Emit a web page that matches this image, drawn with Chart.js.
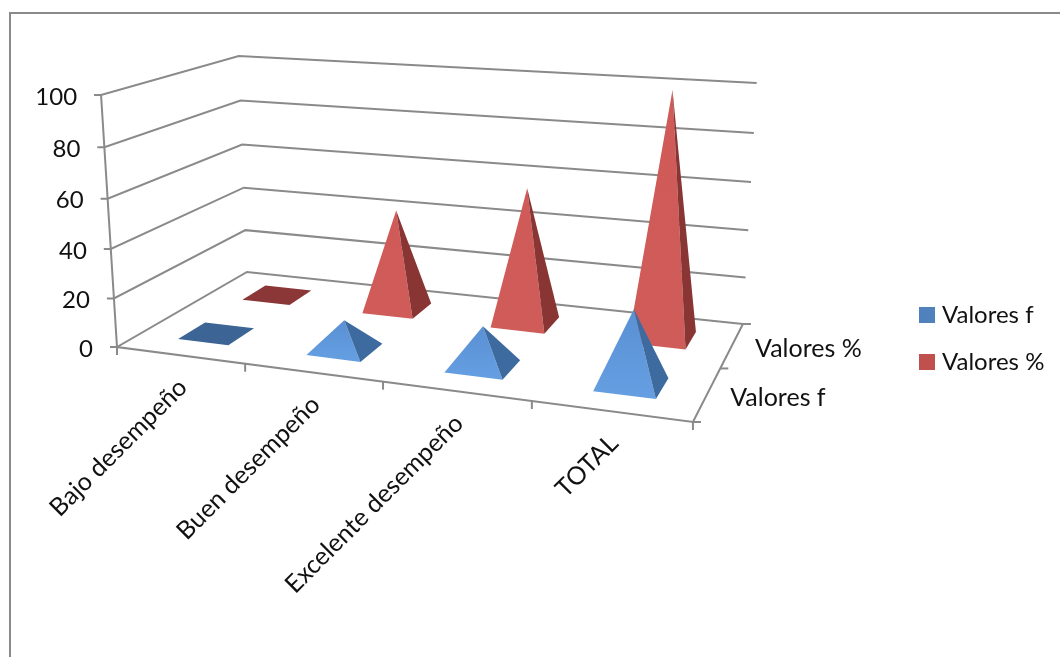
<!DOCTYPE html>
<html>
<head>
<meta charset="utf-8">
<style>
  html, body { margin: 0; padding: 0; background: #fff; overflow: hidden; }
  canvas { display: block; }
</style>
<script src="https://cdn.jsdelivr.net/npm/chart.js@4/dist/chart.umd.min.js"></script>
</head>
<body>
<canvas id="chart-pyramid" width="1060" height="657"></canvas>
<script>
const categories = ['Bajo desempeño', 'Buen desempeño', 'Excelente desempeño', 'TOTAL'];
const seriesNames = ['Valores f', 'Valores %'];
const valoresF = [0, 12, 16, 29];
const valoresPct = [0, 43, 57, 100];
const valueTicks = [0, 20, 40, 60, 80, 100];

const GRID = '#8a8a8a';
const FONT = '25px Lato';
const NUM_FONT = '24px Lato';
const TEXT = '#111';

// colours of the pyramid faces, per series
const faces = [
  { legend: '#4f81bd', top: '#5a90d4', bottom: '#659fe2', side: '#3e6b9f', flat: '#3c6595' },
  { legend: '#c0504d', top: '#cf5a58', bottom: '#d05c59', side: '#883534', flat: '#8c3737' }
];

// camera of the 3d box: u along categories, v into depth, z up (all 0..1)
const CAM = {
  a: 477.9, b: 173.3, c: 117, d: 15.3, e: -27.3, f: 347,
  g: -0.1415, h: 0.1755, k: -0.046, p: -20.6, q: -256.4, r: 3.4
};

function project(u, v, z) {
  const w = 1 + CAM.g * u + CAM.h * v + CAM.k * z;
  return {
    x: (CAM.a * u + CAM.b * v + CAM.c + z * CAM.p) / w,
    y: (CAM.d * u + CAM.e * v + CAM.f + z * (CAM.q + CAM.r * u)) / w
  };
}

function polyline(ctx, pts) {
  ctx.beginPath();
  pts.forEach((p, i) => (i ? ctx.lineTo(p.x, p.y) : ctx.moveTo(p.x, p.y)));
}

function fillFace(ctx, pts, color) {
  polyline(ctx, pts);
  ctx.closePath();
  ctx.fillStyle = color;
  ctx.fill();
}

function drawBox(chart) {
  const ctx = chart.ctx;
  const yScale = chart.scales.y;
  ctx.strokeStyle = GRID;
  ctx.lineWidth = 2;

  // outer frame of the chart object
  polyline(ctx, [{ x: 1060, y: 13 }, { x: 10, y: 13 }, { x: 10, y: 657 }]);
  ctx.stroke();

  valueTicks.forEach(val => {
    const z = (yScale.bottom - yScale.getPixelForValue(val)) / yScale.height;
    const front = project(0, 0, z);
    polyline(ctx, [{ x: front.x - 7, y: front.y }, front, project(0, 1, z), project(1, 1, z)]);
    ctx.stroke();
  });

  // value axis and floor edges
  polyline(ctx, [project(0, 0, 1), project(0, 0, 0), project(1, 0, 0), project(1, 1, 0)]);
  ctx.stroke();

  categories.concat('').forEach((c, i) => {
    const p = project(i / categories.length, 0, 0);
    polyline(ctx, [p, { x: p.x, y: p.y + 8 }]);
    ctx.stroke();
  });
  seriesNames.concat('').forEach((s, i) => {
    const p = project(1, i / seriesNames.length, 0);
    polyline(ctx, [p, { x: p.x + 8, y: p.y }]);
    ctx.stroke();
  });
}

function drawLabels(chart) {
  const ctx = chart.ctx;
  const xScale = chart.scales.x;
  const yScale = chart.scales.y;
  ctx.fillStyle = TEXT;

  ctx.font = NUM_FONT;
  ctx.textAlign = 'right';
  ctx.textBaseline = 'middle';
  valueTicks.forEach(val => {
    const z = (yScale.bottom - yScale.getPixelForValue(val)) / yScale.height;
    const p = project(0, 0, z);
    ctx.fillText(String(val), p.x - 24, p.y + 2);
  });

  ctx.font = FONT;
  categories.forEach((name, i) => {
    const u = (xScale.getPixelForValue(i) - xScale.left) / xScale.width;
    const p = project(u, 0, 0);
    ctx.save();
    ctx.translate(p.x + 3, p.y + 28);
    ctx.rotate(-Math.PI / 4);
    ctx.fillText(name, 0, 0);
    ctx.restore();
  });

  ctx.textAlign = 'left';
  seriesNames.forEach((name, i) => {
    const p = project(1, (i + 0.5) / seriesNames.length, 0);
    ctx.fillText(name, p.x + 23, p.y + 4);
  });
}

function drawPyramid(chart, value, index, row) {
  const ctx = chart.ctx;
  const xScale = chart.scales.x;
  const yScale = chart.scales.y;
  const style = faces[row];
  const u = (xScale.getPixelForValue(index) - xScale.left) / xScale.width + 0.004;
  const v = (row + 0.5) / seriesNames.length;
  const du = 0.05;
  const dv = 0.1;
  const z = (yScale.bottom - yScale.getPixelForValue(value)) / yScale.height;

  const A = project(u - du, v - dv, 0);
  const B = project(u + du, v - dv, 0);
  const C = project(u + du, v + dv, 0);
  const D = project(u - du, v + dv, 0);
  const apex = project(u, v, z);

  if (value === 0) {
    fillFace(ctx, [A, B, C, D], style.flat);
    return;
  }
  const grad = ctx.createLinearGradient(0, apex.y, 0, B.y);
  grad.addColorStop(0, style.top);
  grad.addColorStop(1, style.bottom);
  fillFace(ctx, [A, B, apex], grad);
  fillFace(ctx, [B, C, apex], style.side);
}

const pyramidPlugin = {
  id: 'pyramid3d',
  afterLayout(chart) {
    // legend sits beside the floor, not centred on the value axis
    const legend = chart.legend;
    legend.left = 901;
    legend.right = 1060;
    legend.width = 159;
    legend.top = 280;
    legend.bottom = 480;
    legend.height = 200;
  },
  beforeDatasetsDraw(chart) {
    drawBox(chart);
    // back row first so the front row overlaps it
    for (let row = chart.data.datasets.length - 1; row >= 0; row--) {
      chart.data.datasets[row].data.forEach((val, i) => drawPyramid(chart, val, i, row));
    }
    drawLabels(chart);
    return false;
  }
};

new Chart(document.getElementById('chart-pyramid'), {
  type: 'bar',
  data: {
    labels: categories,
    datasets: [
      { label: seriesNames[0], data: valoresF, backgroundColor: faces[0].legend, borderColor: faces[0].legend, borderWidth: 10 },
      { label: seriesNames[1], data: valoresPct, backgroundColor: faces[1].legend, borderColor: faces[1].legend, borderWidth: 10 }
    ]
  },
  options: {
    responsive: false,
    animation: false,
    layout: { padding: { left: 101, top: 95, bottom: 309, right: 0 } },
    plugins: {
      tooltip: { enabled: false },
      legend: {
        position: 'right',
        align: 'start',
        labels: {
          // small box + thick border keeps the text close to the swatch
          boxWidth: 6,
          boxHeight: 6,
          padding: 23,
          color: TEXT,
          font: { family: 'Lato', size: 24 }
        }
      }
    },
    scales: {
      x: { display: false, offset: true },
      y: { display: false, min: 0, max: 100, ticks: { stepSize: 20 } }
    }
  },
  plugins: [pyramidPlugin]
});
</script>
</body>
</html>
